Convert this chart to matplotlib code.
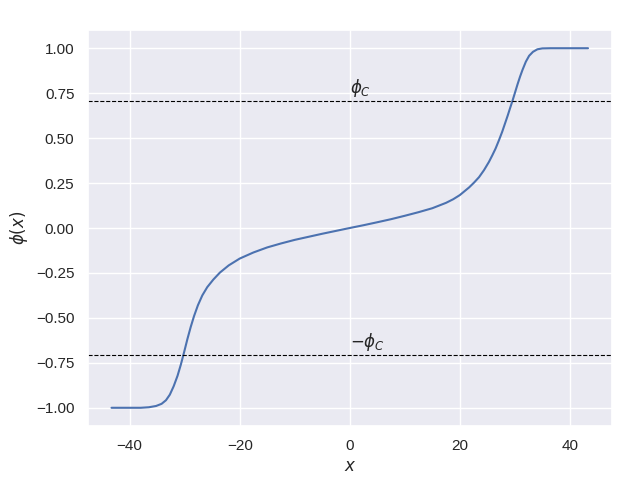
import matplotlib
matplotlib.use("Agg")
import matplotlib.pyplot as plt
import seaborn as sns
import numpy as np

# Values
x_vals = [-43.3, -38.0, -36.5, -35.2, -34.2, -33.4, -32.7, -32.0, -31.3, -30.7,
          -30.1, -29.5, -28.9, -28.3, -27.6, -26.8, -25.9, -24.8, -23.6, -22.0,
          -20.0, -17.5, -15.0, -12.5, -10.0, -7.5, -5.0, -2.5,
          0.0, 2.5, 5.0, 7.5, 10.0, 12.5, 15.0, 17.5, 18.8, 20.0,
          21.7, 22.6, 23.5, 24.4, 25.3, 25.9, 26.5, 27.1, 27.7, 28.2,
          28.7, 29.15, 29.6, 30.05, 30.5, 30.95, 31.4, 32.0, 32.6, 33.3,
          34.1, 35.0, 36.5, 43.3]
phi_vals = [-1.0, -1.0, -0.997, -0.99, -0.978, -0.958, -0.927, -0.88, -0.822, -0.76,
            -0.69, -0.617, -0.55, -0.49, -0.43, -0.375, -0.329, -0.287, -0.248, -0.208,
            -0.17, -0.136, -0.108, -0.086, -0.066, -0.049, -0.032, -0.016,
            0.0, 0.0155, 0.032, 0.049, 0.068, 0.088, 0.11, 0.14, 0.16, 0.183,
            0.226, 0.253, 0.283, 0.322, 0.368, 0.404, 0.442, 0.487, 0.535, 0.58,
            0.625, 0.668, 0.71, 0.755, 0.80, 0.842, 0.88, 0.925, 0.958, 0.98,
            0.994, 0.999, 1.0, 1.0]
phi_c = 0.7071

sns.set_theme()
plt.rcParams['font.family'] = ['Liberation Sans', 'DejaVu Sans']
fig, ax = plt.subplots(figsize=(6.4, 4.8), dpi=100)
fig.subplots_adjust(left=0.137, right=0.956, top=0.937, bottom=0.113)
ax.plot(x_vals, phi_vals)
ax.axhline(phi_c, color="black", linestyle="--", linewidth=0.8)
ax.axhline(-phi_c, color="black", linestyle="--", linewidth=0.8)
ax.text(0, phi_c + 0.01, r"$\phi_C$", ha="left", va="bottom", fontsize=12)
ax.text(0, -phi_c + 0.01, r"$-\phi_C$", ha="left", va="bottom", fontsize=12)
ax.set_xlabel(r"$x$")
ax.set_ylabel(r"$\phi(x)$")
fig.savefig("out.png")
